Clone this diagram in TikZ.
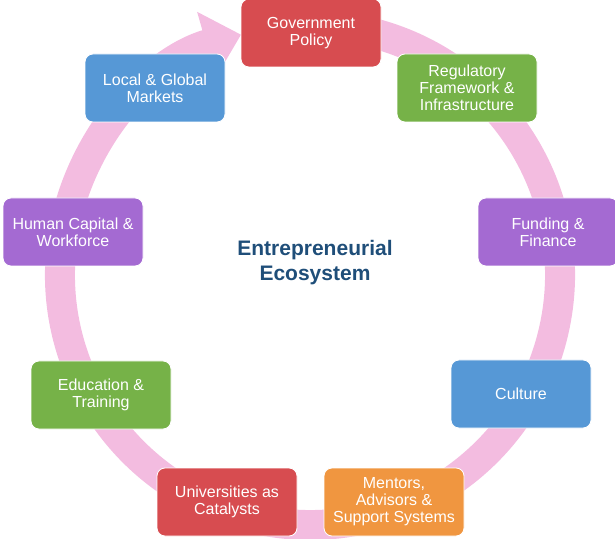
\documentclass[tikz,border=0pt]{standalone}
\usepackage{fontspec}
\setmainfont{Liberation Sans}
\usetikzlibrary{arrows.meta}
\definecolor{ringpink}{RGB}{243,188,224}
\definecolor{boxred}{RGB}{215,76,80}
\definecolor{boxgreen}{RGB}{118,178,72}
\definecolor{boxblue}{RGB}{86,152,214}
\definecolor{boxpurple}{RGB}{164,106,210}
\definecolor{boxorange}{RGB}{240,150,64}
\definecolor{titleblue}{RGB}{31,78,121}

\begin{document}
\begin{tikzpicture}[x=1pt,y=1pt]
    \tikzstyle{factor}=[rectangle,rounded corners=8pt,draw=white,line width=0.8pt,text=white,
        align=center,inner sep=2pt,minimum width=140pt,minimum height=68pt,
        font=\fontsize{16}{17}\selectfont]
    \tikzstyle{ring}=[draw=ringpink,line width=30pt,-{Triangle[length=0pt 1.2,width=0pt 2.2]}]
    \useasboundingbox (0,0) rectangle (615,538);

    \coordinate (C) at (310,263);
    \draw[ring] (C) ++(78:250) arc[start angle=78,end angle=-254,radius=250];

    \foreach \name/\x/\y/\col/\txt in {
            gov/311/505/boxred/{Government\\Policy},
            reg/467/450/boxgreen/{Regulatory\\Framework \&\\Infrastructure},
            fund/548/306/boxpurple/{Funding \&\\Finance},
            cult/521/144/boxblue/{Culture},
            ment/394/36/boxorange/{Mentors,\\Advisors \&\\Support Systems},
            uni/227/36/boxred/{Universities as\\Catalysts},
            edu/101/143/boxgreen/{Education \&\\Training},
            hum/73/306/boxpurple/{Human Capital \&\\Workforce},
            mkt/155/450/boxblue/{Local \& Global\\Markets}}
        \node[factor,fill=\col] (F-\name) at (\x,\y) {\txt};

    \node[text=titleblue,align=center,font=\bfseries\fontsize{21}{25}\selectfont] (eco) at (315,275)
        {Entrepreneurial\\Ecosystem};
\end{tikzpicture}
\end{document}
